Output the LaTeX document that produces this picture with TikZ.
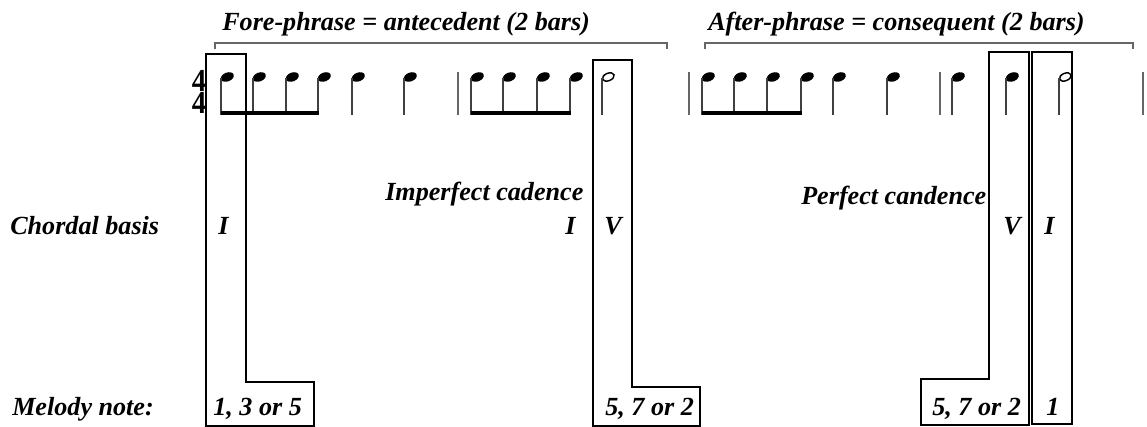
\documentclass[tikz,border=0pt]{standalone}
\usepackage{fontspec}
\setmainfont{Liberation Serif}
\begin{document}
\begin{tikzpicture}[x=0.75pt,y=-0.75pt,
  lbl/.style={inner sep=0pt,anchor=base west,font=\fontsize{19.6}{22}\selectfont\bfseries\itshape},
  tsig/.style={inner sep=0pt,align=center,font=\fontsize{24}{17.2}\selectfont\bfseries},
  stem/.style={line width=0.9pt,black!75},
  bar/.style={line width=1.3pt,black!60},
  box/.style={line width=1.5pt,black},
  brk/.style={line width=0.8pt,black!60}]
\useasboundingbox (0,0) rectangle (1147,427);
\newcommand\qnote[1]{\fill[shift={(#1+6.3,77)},rotate=22] (0,0) ellipse [x radius=5.1pt,y radius=3.3pt]; \draw[stem] (#1,78) -- (#1,115);}
\newcommand\hnote[1]{\draw[line width=1.1pt,shift={(#1+6.3,77)},rotate=22] (0,0) ellipse [x radius=4.6pt,y radius=2.8pt]; \draw[stem] (#1,78) -- (#1,115);}
% titles and brackets
\node[lbl] (t1) at (222,31) {Fore-phrase = antecedent (2 bars)};
\node[lbl] (t2) at (708,31) {After-phrase = consequent (2 bars)};
\draw[brk] (215,49) -- (215,43) -- (667,43) -- (667,49);
\draw[brk] (705,49) -- (705,43) -- (1133,43) -- (1133,49);
% time signature
\node[tsig,xscale=0.9,anchor=base] (ts) at (199,114) {4\\4};
% notes
\foreach \x in {221,253,286,318,352,404,471,503,537,570,702,734,767,801,833,887,952,1006} {\qnote{\x}}
\hnote{602}
\hnote{1059}
\fill (220.5,111) rectangle (318.5,115);
\fill (470.5,111) rectangle (570.5,115);
\fill (701.5,111) rectangle (801.5,115);
\foreach \x in {458,689,940,1143} {\draw[bar] (\x,72) -- (\x,115);}
% boxes
\draw[box] (206,426) -- (206,54) -- (246,54) -- (246,382) -- (314,382) -- (314,426) -- cycle;
\draw[box] (593,426) -- (593,60) -- (632,60) -- (632,387) -- (700,387) -- (700,426) -- cycle;
\draw[box] (1029,425) -- (1029,52) -- (989,52) -- (989,379) -- (921,379) -- (921,425) -- cycle;
\draw[box] (1032,424) rectangle (1072,52);
% labels
\node[lbl] (cb) at (10,235) {Chordal basis};
\node[lbl] (c1) at (218,235) {I};
\node[lbl] (ic) at (385,201) {Imperfect cadence};
\node[lbl] (c2) at (565,235) {I};
\node[lbl] (c3) at (604,235) {V};
\node[lbl] (pc) at (801,205) {Perfect candence};
\node[lbl] (c4) at (1003,235) {V};
\node[lbl] (c5) at (1044,235) {I};
\node[lbl] (mn) at (12,416) {Melody note:};
\node[lbl] (m1) at (213,416) {1, 3 or 5};
\node[lbl] (m2) at (605,416) {5, 7 or 2};
\node[lbl] (m3) at (932,416) {5, 7 or 2};
\node[lbl] (m4) at (1046,416) {1};
\end{tikzpicture}
\end{document}
